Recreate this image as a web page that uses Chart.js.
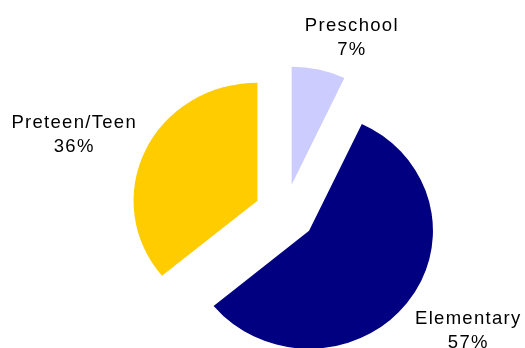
<!DOCTYPE html>
<html>
<head>
<meta charset="utf-8">
<script src="https://cdn.jsdelivr.net/npm/chart.js@4"></script>
<style>
  html, body { margin: 0; padding: 0; background: #fff; }
  #wrap { width: 525px; height: 348px; position: relative; }
</style>
</head>
<body>
<div id="wrap"><canvas id="pie"></canvas></div>
<script>
// data
const categories = ["Preschool", "Elementary", "Preteen/Teen"];
const shares = [7, 57, 36];
const sliceColors = ["#ccccff", "#000080", "#ffcc00"];

const EXPLODE = 29;      // px each slice is pulled out
const X_STRETCH = 1.05;  // the original pie is a touch wider than tall
const LABEL_GAP = 18;    // px between arc edge and label box
// small hand nudges so the labels sit where the original put them
const labelNudge = [[19, 8], [5, 3], [2, 2]];

// pull every slice out along its mid angle, and stretch the pie sideways
const explodePlugin = {
    id: "explode",
    afterDatasetUpdate(chart, args) {
        args.meta.data.forEach((arc) => {
            const mid = (arc.startAngle + arc.endAngle) / 2;
            arc.x += Math.cos(mid) * EXPLODE;
            arc.y += Math.sin(mid) * EXPLODE;
        });
    },
    beforeDatasetsDraw(chart) {
        const { ctx, chartArea } = chart;
        const cx = (chartArea.left + chartArea.right) / 2;
        ctx.save();
        ctx.translate(cx, 0);
        ctx.scale(X_STRETCH, 1);
        ctx.translate(-cx, 0);
    },
    afterDatasetsDraw(chart) {
        chart.ctx.restore();
    },
};

// two line labels ("name" / "pct%") outside each slice
const outsideLabels = {
    id: "outsideLabels",
    afterDatasetsDraw(chart) {
        const { ctx, chartArea } = chart;
        const cx0 = (chartArea.left + chartArea.right) / 2;
        const meta = chart.getDatasetMeta(0);
        const total = shares.reduce((a, b) => a + b, 0);
        const lineH = 24;
        ctx.save();
        ctx.font = "18.5px 'Liberation Sans', Arial, sans-serif";
        ctx.letterSpacing = "1.3px";
        ctx.fillStyle = "#000";
        ctx.textAlign = "center";
        ctx.textBaseline = "middle";
        meta.data.forEach((arc, i) => {
            const mid = (arc.startAngle + arc.endAngle) / 2;
            const ux = Math.cos(mid), uy = Math.sin(mid);
            const vx = cx0 + (arc.x - cx0) * X_STRETCH;
            const vy = arc.y;
            const lines = [categories[i], Math.round(shares[i] / total * 100) + "%"];
            const w = Math.max(...lines.map((t) => ctx.measureText(t).width));
            const h = lines.length * 23;
            const R = arc.outerRadius;
            const lx = vx + ux * (R * X_STRETCH + LABEL_GAP) + ux * w / 2 + labelNudge[i][0];
            const ly = vy + uy * (R + LABEL_GAP) + uy * h / 2 + labelNudge[i][1];
            lines.forEach((t, k) => {
                ctx.fillText(t, lx, ly + (k - 0.5) * lineH);
            });
        });
        ctx.restore();
    },
};

new Chart(document.getElementById("pie").getContext("2d"), {
    type: "pie",
    data: {
        labels: categories,
        datasets: [
            {
                data: shares,
                backgroundColor: sliceColors,
                borderWidth: 0,
                radius: 118,
                clip: false,
            },
        ],
    },
    options: {
        responsive: true,
        maintainAspectRatio: false,
        animation: false,
        events: [],
        layout: {
            padding: { left: 45, right: 0, top: 78, bottom: 0 },
        },
        plugins: {
            legend: { display: false },
            tooltip: { enabled: false },
        },
    },
    plugins: [explodePlugin, outsideLabels],
});
</script>
</body>
</html>
